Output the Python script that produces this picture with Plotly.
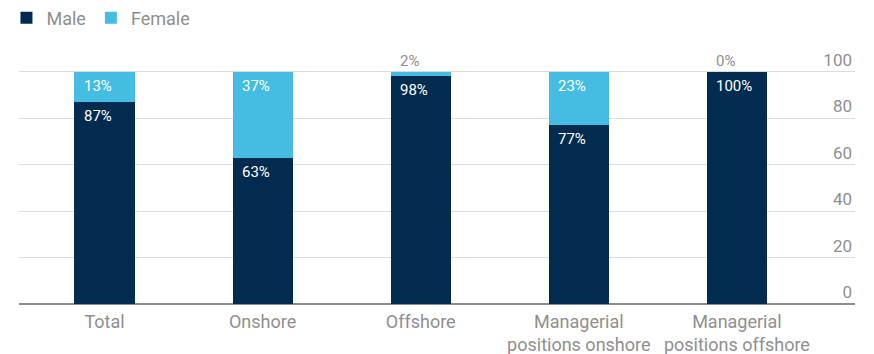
import plotly.graph_objects as go

categories = ["Total", "Onshore", "Offshore", "Managerial<br>positions onshore", "Managerial<br>positions offshore"]
male = [87, 63, 98, 77, 100]
female = [13, 37, 2, 23, 0]
y_ticks = [0, 20, 40, 60, 80, 100]

NAVY = "#022c4f"
LIGHT = "#45bde3"
GRAY = "#8f8f8f"
FONT = "Roboto"

fig = go.Figure()
fig.add_trace(go.Bar(x=categories, y=male, name="Male", marker=dict(color=NAVY, line=dict(width=0)), width=0.38))
fig.add_trace(go.Bar(x=categories, y=female, name="Female", marker=dict(color=LIGHT, line=dict(width=0)), width=0.38))

annotations = []
for c, m, f in zip(categories, male, female):
    annotations.append(dict(x=c, y=m, xref="x", yref="y", text=f"{m}%", showarrow=False,
                            xanchor="left", yanchor="top", xshift=-23, yshift=-3,
                            font=dict(family=FONT, size=15, color="white")))
    top = m + f
    if f >= 5:
        annotations.append(dict(x=c, y=top, xref="x", yref="y", text=f"{f}%", showarrow=False,
                                xanchor="left", yanchor="top", xshift=-23, yshift=-3,
                                font=dict(family=FONT, size=15, color="white")))
    else:
        annotations.append(dict(x=c, y=top, xref="x", yref="y", text=f"{f}%", showarrow=False,
                                xanchor="left", yanchor="bottom", xshift=-23, yshift=0,
                                font=dict(family=FONT, size=15, color=GRAY)))

fig.update_layout(
    width=874, height=354,
    margin=dict(l=19, r=19, t=37.1, b=49.5, pad=0, autoexpand=False),
    barmode="stack",
    plot_bgcolor="white", paper_bgcolor="white",
    font=dict(family=FONT, size=18, color=GRAY),
    showlegend=True,
    legend=dict(orientation="h", x=-0.015, xanchor="left", y=0.949, yref="container", yanchor="middle",
                traceorder="normal", font=dict(family=FONT, size=18, color=GRAY), itemwidth=30),
    annotations=annotations,
    xaxis=dict(type="category", range=[-0.541, 4.747], showgrid=False, showline=False, ticks="",
               automargin=False, ticklabelstandoff=5,
               tickfont=dict(family=FONT, size=18, color=GRAY)),
    yaxis=dict(side="right", range=[0, 115], tickvals=y_ticks, ticklabelposition="inside top",
               automargin=False,
               showgrid=True, gridcolor="#dcdcdc", gridwidth=1, zeroline=True, zerolinecolor="#8c8c8c",
               zerolinewidth=2, showline=False, ticks="", tickfont=dict(family=FONT, size=17, color=GRAY)),
)

fig.write_html("out.html")
